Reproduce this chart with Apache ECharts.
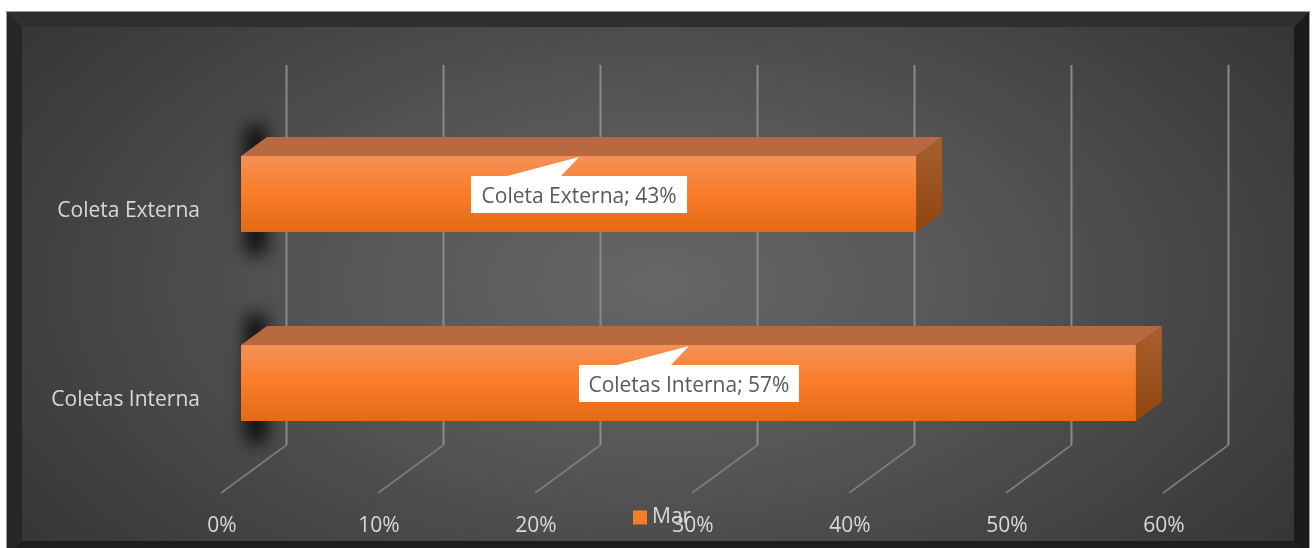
<!DOCTYPE html>
<html><head><meta charset="utf-8">
<style>
html,body{margin:0;padding:0;background:#fff;width:1313px;height:548px;overflow:hidden}
#panel{position:absolute;left:6px;top:11px;width:1272px;height:514px;border-style:solid;border-width:16px 16px 16px 16px;border-color:#2f2f2f #1b1b1b #1e1e1e #262626;
background:radial-gradient(ellipse 72% 100% at 50% 50%,#666 0%,#565656 35%,#3e3e3e 72%,#2e2e2e 100%);outline:1px solid #9a9a9a;outline-offset:-1px}
#chart{position:absolute;left:0;top:0;width:1313px;height:548px}
</style>
<script src="https://cdn.jsdelivr.net/npm/echarts@6/dist/echarts.min.js"></script>
</head><body><div id="panel"></div><div id="chart"></div>
<script>
const categories = ['Coletas Interna', 'Coleta Externa'];
const values = [57, 43];
const wallTicks = [0, 10, 20, 30, 40, 50, 60];
const seriesName = 'Mar';
const FONT = '"Open Sans","Noto Sans",sans-serif';

const chart = echarts.init(document.getElementById('chart'), null, {renderer: 'canvas'});

function renderWall(params, api) {
  const cs = params.coordSys;
  const bottom = cs.y + cs.height;
  const x = api.coord([api.value(0), 0])[0];
  const cornerX = x + 45.5, cornerY = bottom - 32.5, floorX = x - 20, floorY = bottom + 15.5, topY = cs.y - 34.5;
  return {type: 'group', children: [
    {type: 'line', shape: {x1: cornerX, y1: topY, x2: cornerX, y2: cornerY}, style: {stroke: '#8a8a8a', lineWidth: 2, fill: null}},
    {type: 'line', shape: {x1: cornerX, y1: cornerY, x2: floorX, y2: floorY}, style: {stroke: '#7d7d7d', lineWidth: 1.6, fill: null}}
  ]};
}

function renderBar(params, api) {
  const v = api.value(0), cat = api.value(1);
  const start = api.coord([0, cat]), end = api.coord([v, cat]);
  const h = 76, dx = 26, dy = 19, off = 3000;
  const x0 = start[0], x1 = end[0], yc = start[1], y0 = yc - h / 2, y1 = yc + h / 2;
  const cx = (x0 + x1) / 2 + 0.5;
  const label = categories[cat] + '; ' + v + '%';
  const boxW = cat === 1 ? 216 : 220;
  const boxL = cx - boxW / 2, boxT = yc - 18, boxB = yc + 19;
  const tipY = y0 + 1;
  return {type: 'group', children: [
    {type: 'rect', shape: {x: x0 + 5 - off, y: y0 - 30, width: 20, height: h + 52},
      style: {fill: '#000', shadowBlur: 18, shadowColor: 'rgba(0,0,0,0.9)', shadowOffsetX: off}},
    {type: 'polygon', shape: {points: [[x0, y0], [x0 + dx, y0 - dy], [x1 + dx, y0 - dy], [x1, y0]]},
      style: {fill: '#b8693f'}},
    {type: 'polygon', shape: {points: [[x1, y0], [x1 + dx, y0 - dy], [x1 + dx, y1 - dy], [x1, y1]]},
      style: {fill: new echarts.graphic.LinearGradient(0, 0, 0, 1, [
        {offset: 0, color: '#a9602f'}, {offset: 1, color: '#8e450d'}])}},
    {type: 'rect', shape: {x: x0, y: y0, width: x1 - x0, height: h},
      style: {fill: new echarts.graphic.LinearGradient(0, 0, 0, 1, [
        {offset: 0, color: '#f59157'}, {offset: 0.5, color: '#f97c28'}, {offset: 1, color: '#e56a15'}])}},
    {type: 'polygon', shape: {points: [
        [boxL, boxT], [cx - 72, boxT], [cx, tipY], [cx - 18, boxT], [boxL + boxW, boxT],
        [boxL + boxW, boxB], [boxL, boxB]]},
      style: {fill: '#ffffff'}},
    {type: 'text', x: cx, y: yc + 3,
      style: {text: label, font: '21px ' + FONT, fill: '#595959', align: 'center', verticalAlign: 'middle'}}
  ]};
}

chart.setOption({
  animation: false,
  backgroundColor: 'transparent',
  grid: {left: 241, top: 99.5, width: 942, height: 378, containLabel: false},
  legend: {
    data: [seriesName], left: 629, top: 505, itemWidth: 14, itemHeight: 14, itemGap: 6, icon: 'rect',
    textStyle: {color: '#d9d9d9', fontSize: 21, fontFamily: FONT}, padding: [2, 4]
  },
  xAxis: {
    type: 'value', min: 0, max: 60, interval: 10,
    axisLine: {show: false}, axisTick: {show: false}, splitLine: {show: false},
    axisLabel: {color: '#d9d9d9', fontSize: 21, fontFamily: FONT, margin: 38, padding: [0, 38, 0, 0], formatter: '{value}%', hideOverlap: false}
  },
  yAxis: {
    type: 'category', data: categories,
    axisLine: {show: false}, axisTick: {show: false}, splitLine: {show: false},
    axisLabel: {color: '#d9d9d9', fontSize: 21, fontFamily: FONT, margin: 41, verticalAlign: 'top', lineHeight: 35}
  },
  series: [
    {type: 'custom', name: 'walls', renderItem: renderWall, silent: true, z: 1, clip: false,
      encode: {x: 0}, data: wallTicks.map(t => [t])},
    {type: 'custom', name: seriesName, renderItem: renderBar, z: 2, clip: false,
      itemStyle: {color: '#f97d28'}, encode: {x: 0, y: 1},
      data: values.map((v, i) => [v, i])}
  ]
});
</script></body></html>
